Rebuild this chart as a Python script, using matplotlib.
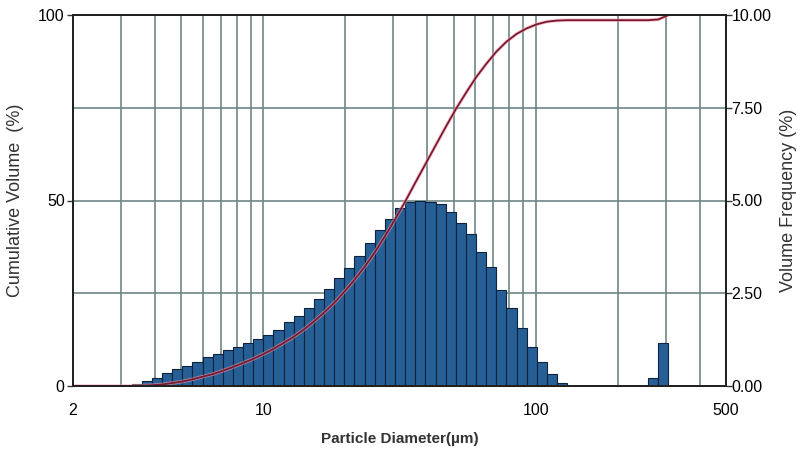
import matplotlib
matplotlib.use("Agg")
import matplotlib.pyplot as plt
from matplotlib.ticker import FixedLocator, NullFormatter
import numpy as np

plt.rcParams['font.family'] = ['Liberation Sans', 'DejaVu Sans']

# size class edges (um), geometric classes
edges = [3.29, 3.58, 3.90, 4.25, 4.63, 5.04, 5.49, 5.98, 6.52, 7.10,
         7.73, 8.42, 9.18, 10.0, 10.89, 11.87, 12.93, 14.08, 15.34, 16.71,
         18.21, 19.83, 21.61, 23.54, 25.64, 27.93, 30.43, 33.17, 36.14, 39.37,
         42.89, 46.72, 50.90, 55.45, 60.41, 65.81, 71.69, 78.10, 85.09, 92.69,
         100.98, 110.0, 119.8, 130.5, 142.2, 154.9, 168.8, 183.9, 200.3, 218.2,
         237.7, 259.0, 282.1, 307.4]

# volume frequency (%) per class
freq = [0.06, 0.14, 0.22, 0.35, 0.45, 0.54, 0.66, 0.77, 0.87, 0.96,
        1.06, 1.16, 1.26, 1.37, 1.52, 1.72, 1.90, 2.10, 2.35, 2.62,
        2.90, 3.18, 3.50, 3.85, 4.20, 4.50, 4.80, 4.96, 5.00, 4.97,
        4.90, 4.70, 4.40, 4.10, 3.60, 3.20, 2.60, 2.10, 1.55, 1.05,
        0.65, 0.32, 0.08, 0, 0, 0, 0, 0, 0, 0,
        0, 0.22, 1.17]

# cumulative volume (%) read at the class edges
cum_d = [2.0] + edges
cum = [0, 0, 0.1, 0.2, 0.4, 0.8, 1.2, 1.8, 2.5, 3.2, 4.1,
       5.1, 6.2, 7.3, 8.6, 10.0, 11.6, 13.3, 15.2, 17.4, 19.8,
       22.4, 25.4, 28.6, 32.1, 36.0, 40.3, 44.9, 49.7, 54.8, 59.8,
       64.8, 69.8, 74.6, 79.0, 83.2, 86.8, 90.1, 92.8, 94.9, 96.4,
       97.5, 98.2, 98.5, 98.6, 98.6, 98.6, 98.6, 98.6, 98.6, 98.6,
       98.6, 98.6, 98.8, 100.0]

x_ticks = [2, 10, 100, 500]
grid_x = [3, 4, 5, 6, 7, 8, 9, 20, 30, 40, 50, 60, 70, 80, 90, 200, 300, 400]

fig = plt.figure(figsize=(8.01, 4.53), dpi=100)
axf = fig.add_axes([73/801, 67/453, 653/801, 371/453])
ax = axf.twinx()
# left axis (cumulative) on top, frequency bars below
axf.yaxis.tick_right()
axf.yaxis.set_label_position('right')
ax.yaxis.tick_left()
ax.yaxis.set_label_position('left')
ax.set_zorder(axf.get_zorder() + 1)
ax.patch.set_visible(False)

gcol = '#6e8686'
for g in grid_x + [10, 100]:
    axf.axvline(g, color=gcol, lw=1.2, zorder=0)
for g in [2.5, 5.0, 7.5]:
    axf.axhline(g, color=gcol, lw=1.2, zorder=0)

lefts = np.array(edges[:-1])
widths = np.array(edges[1:]) - lefts
axf.bar(lefts, freq, width=widths, align='edge', color='#265f95',
        edgecolor='#0e213d', linewidth=0.8, zorder=2)

ax.plot(cum_d, cum, color='#f0a0b0', lw=2.6, alpha=0.6, solid_capstyle='round')
ax.plot(cum_d, cum, color='#7a1830', lw=1.3)

for a in (ax, axf):
    a.set_xscale('log')
    a.set_xlim(2, 500)
axf.set_ylim(0, 10)
ax.set_ylim(0, 100)

axf.xaxis.set_major_locator(FixedLocator(x_ticks))
axf.xaxis.set_minor_locator(FixedLocator([]))
axf.xaxis.set_minor_formatter(NullFormatter())
axf.set_xticklabels([str(t) for t in x_ticks])
axf.tick_params(axis='x', length=0, labelsize=11.5, pad=12)

ax.set_yticks([0, 50, 100])
ax.tick_params(axis='y', length=4, width=1, labelsize=11.5, pad=2, color='#333333')
axf.set_yticks([0, 2.5, 5.0, 7.5, 10.0])
axf.set_yticklabels(['0.00', '2.50', '5.00', '7.50', '10.00'])
axf.tick_params(axis='y', length=4, width=1, labelsize=11.5, pad=0, color='#333333')

for a in (ax, axf):
    for s in a.spines.values():
        s.set_color('#222222')
        s.set_linewidth(1.4)

ax.set_ylabel('Cumulative Volume  (%)', fontsize=13, color='#333333', labelpad=10)
axf.set_ylabel('Volume Frequency (%)', fontsize=13, color='#333333', labelpad=6)
axf.set_xlabel('Particle Diameter(\u00b5m)', fontsize=11, fontweight='bold',
               color='#333333', labelpad=10)

fig.savefig('out.png', dpi=100)
